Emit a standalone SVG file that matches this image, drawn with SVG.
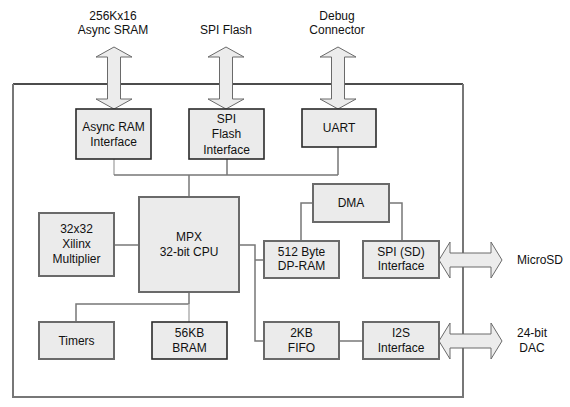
<svg xmlns="http://www.w3.org/2000/svg" width="570" height="407" viewBox="0 0 570 407">
<style>
text{font-family:"Liberation Sans",Arial,sans-serif;font-size:12px;fill:#111;text-anchor:middle}
.box{fill:#ebebeb;stroke:#6a6a6a;stroke-width:2}
.dk{stroke:#2a2a2a;stroke-width:1.6}
.c{fill:none;stroke:#777;stroke-width:1.5}
.lt{stroke:#b0b0b0}
.arr{fill:#ececec;stroke:#6a6a6a;stroke-width:1}
</style>
<rect width="570" height="407" fill="#fff"/>
<g id="frame">
<path d="M13,84 H463" stroke="#111" stroke-width="1.3" fill="none"/>
<path d="M13,84 V397 H463 V84" stroke="#777" stroke-width="2" fill="none"/>
</g>
<g id="labels">
<text x="113" y="20">256Kx16</text>
<text x="113" y="34">Async SRAM</text>
<text x="226" y="34">SPI Flash</text>
<text x="337" y="20">Debug</text>
<text x="337" y="34">Connector</text>
<text x="540" y="264">MicroSD</text>
<text x="532" y="337">24-bit</text>
<text x="532" y="352">DAC</text>
</g>
<g id="connectors">
<path class="c lt" d="M114,159 V175"/>
<path class="c" d="M114,175 H338 M227,159 V175 M338,147 V175"/>
<path class="c" d="M189,175 V197" stroke-width="2.5" stroke="#666"/>
<path class="c" d="M114,245 H139"/>
<path class="c" d="M239,245 H255 V341 H264 M255,260 H264"/>
<path class="c" d="M313,203 H301 V241 M389,203 H402 V241"/>
<path class="c" d="M339,341 H363"/>
<path class="c" d="M189,292 V304 M189,304 H76 V322"/>
<path class="c lt" d="M189,304 V322"/>
</g>
<g id="io-arrows">
<path class="arr" d="M114,47 L132,57 L120.5,57 L120.5,99 L132,99 L114,109 L96,99 L107.5,99 L107.5,57 L96,57 Z"/>
<path class="arr" d="M226,47 L244,57 L232.5,57 L232.5,99 L244,99 L226,109 L208,99 L219.5,99 L219.5,57 L208,57 Z"/>
<path class="arr" d="M338,47 L356,57 L344.5,57 L344.5,99 L356,99 L338,109 L320,99 L331.5,99 L331.5,57 L320,57 Z"/>
<path class="arr" d="M439,260 L450,242 L450,253 L491,253 L491,242 L502,260 L491,278 L491,267 L450,267 L450,278 Z"/>
<path class="arr" d="M439,341 L450,323 L450,334 L491,334 L491,323 L502,341 L491,359 L491,348 L450,348 L450,359 Z"/>
</g>
<g id="async-ram">
<rect class="box dk" x="76" y="109" width="75" height="50"/>
<text x="113.5" y="131">Async RAM</text>
<text x="113.5" y="146">Interface</text>
</g>
<g id="spi-flash">
<rect class="box dk" x="189" y="109" width="75" height="50"/>
<text x="226.5" y="122.5">SPI</text>
<text x="226.5" y="138">Flash</text>
<text x="226.5" y="153.5">Interface</text>
</g>
<g id="uart">
<rect class="box dk" x="302" y="109" width="74" height="38"/>
<text x="339" y="132">UART</text>
</g>
<g id="dma">
<rect class="box" x="313" y="184" width="76" height="38"/>
<text x="351" y="207">DMA</text>
</g>
<g id="cpu">
<rect class="box" x="139" y="197" width="100" height="95"/>
<text x="189" y="241">MPX</text>
<text x="189" y="256">32-bit CPU</text>
</g>
<g id="multiplier">
<rect class="box" x="39" y="213" width="75" height="63"/>
<text x="76.5" y="233">32x32</text>
<text x="76.5" y="248">Xilinx</text>
<text x="76.5" y="263">Multiplier</text>
</g>
<g id="dpram">
<rect class="box" x="264" y="241" width="75" height="37"/>
<text x="301.5" y="256">512 Byte</text>
<text x="301.5" y="270">DP-RAM</text>
</g>
<g id="spi-sd">
<rect class="box" x="363" y="241" width="76" height="37"/>
<text x="401" y="256">SPI (SD)</text>
<text x="401" y="270">Interface</text>
</g>
<g id="timers">
<rect class="box" x="39" y="322" width="75" height="37"/>
<text x="76.5" y="345">Timers</text>
</g>
<g id="bram">
<rect class="box dk" x="152" y="322" width="75" height="37"/>
<text x="189.5" y="337">56KB</text>
<text x="189.5" y="352">BRAM</text>
</g>
<g id="fifo">
<rect class="box" x="264" y="322" width="75" height="37"/>
<text x="301.5" y="337">2KB</text>
<text x="301.5" y="352">FIFO</text>
</g>
<g id="i2s">
<rect class="box" x="363" y="322" width="76" height="37"/>
<text x="401" y="337">I2S</text>
<text x="401" y="352">Interface</text>
</g>
</svg>
